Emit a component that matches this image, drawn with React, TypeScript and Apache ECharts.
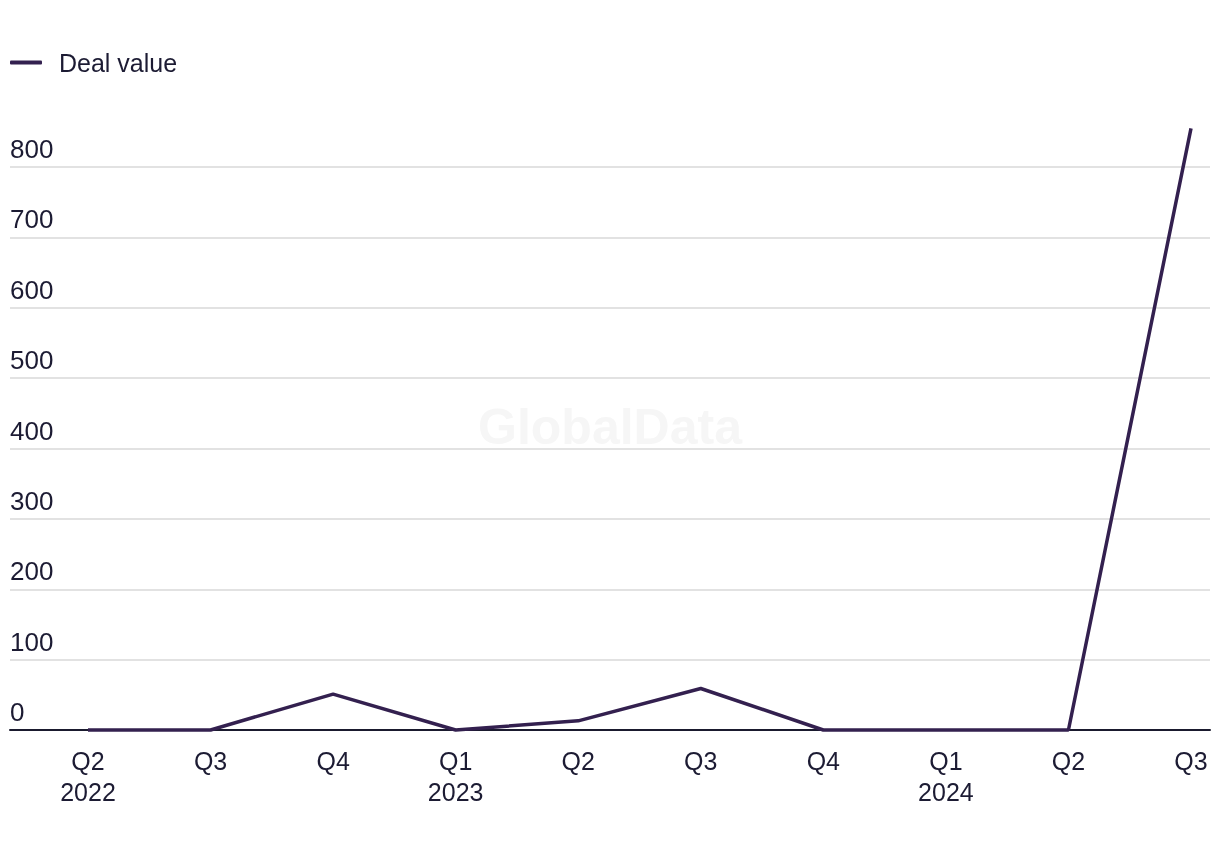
import React, { useEffect, useRef } from "react";
import * as echarts from "echarts";

const quarters = ["Q2\n2022", "Q3", "Q4", "Q1\n2023", "Q2", "Q3", "Q4", "Q1\n2024", "Q2", "Q3"];
const dealValue = [0, 0, 51, 0, 13, 59, 0, 0, 0, 855];
const seriesName = "Deal value";
const yTicks = { min: 0, max: 800, interval: 100 };

const FONT = "'Liberation Sans', Arial, sans-serif";
const TEXT = "#1c1b33";
const LINE = "#33204f";

export default function App() {
  const ref = useRef<HTMLDivElement>(null);
  useEffect(() => {
    if (!ref.current) return;
    const chart = echarts.init(ref.current, null, { renderer: "svg" });
    chart.setOption({
      animation: false,
      textStyle: { fontFamily: FONT },
      legend: {
        left: 10,
        top: 50,
        padding: 0,
        icon: "roundRect",
        itemWidth: 32,
        itemHeight: 4,
        data: [seriesName],
        textStyle: { fontSize: 25, color: TEXT, fontFamily: FONT, padding: [0, 0, 0, 12] },
      },
      graphic: [
        {
          type: "text",
          left: "center",
          top: 402,
          z: 0,
          style: { text: "GlobalData", fontSize: 50, fontWeight: "bold", fill: "#f6f6f6", fontFamily: FONT },
        },
      ],
      grid: [
        { left: 10, right: 10, top: 167, bottom: 120 },
        { left: 88, right: 29, top: 167, bottom: 120 },
      ],
      xAxis: [
        {
          type: "value",
          gridIndex: 0,
          min: 0,
          max: 1,
          axisLine: { show: true, lineStyle: { color: "#1a1a2e", width: 2 } },
          axisTick: { show: false },
          axisLabel: { show: false },
          splitLine: { show: false },
        },
        {
          type: "category",
          gridIndex: 1,
          data: quarters,
          boundaryGap: false,
          axisLine: { show: false },
          axisTick: { show: false },
          splitLine: { show: false },
          axisLabel: {
            fontSize: 25,
            color: TEXT,
            fontFamily: FONT,
            lineHeight: 31,
            margin: 15,
            interval: 0,
          },
        },
      ],
      yAxis: [
        {
          type: "value",
          gridIndex: 0,
          min: yTicks.min,
          max: yTicks.max,
          interval: yTicks.interval,
          axisLine: { show: false },
          axisTick: { show: false },
          splitLine: { lineStyle: { color: "#d9d9d9", width: 1.5 } },
          axisLabel: {
            inside: true,
            margin: 0,
            fontSize: 26,
            color: TEXT,
            fontFamily: FONT,
            verticalAlign: "bottom",
            padding: [0, 0, 5, 0],
          },
        },
        {
          type: "value",
          gridIndex: 1,
          min: yTicks.min,
          max: yTicks.max,
          interval: yTicks.interval,
          show: false,
          splitLine: { show: false },
        },
      ],
      series: [
        {
          name: seriesName,
          type: "line",
          xAxisIndex: 1,
          yAxisIndex: 1,
          data: dealValue,
          clip: false,
          showSymbol: false,
          symbol: "none",
          lineStyle: { color: LINE, width: 3.5 },
          itemStyle: { color: LINE },
          z: 5,
        },
      ],
    });
    return () => chart.dispose();
  }, []);
  return <div ref={ref} style={{ position: "fixed", left: 0, top: 0, width: 1220, height: 850 }} />;
}
